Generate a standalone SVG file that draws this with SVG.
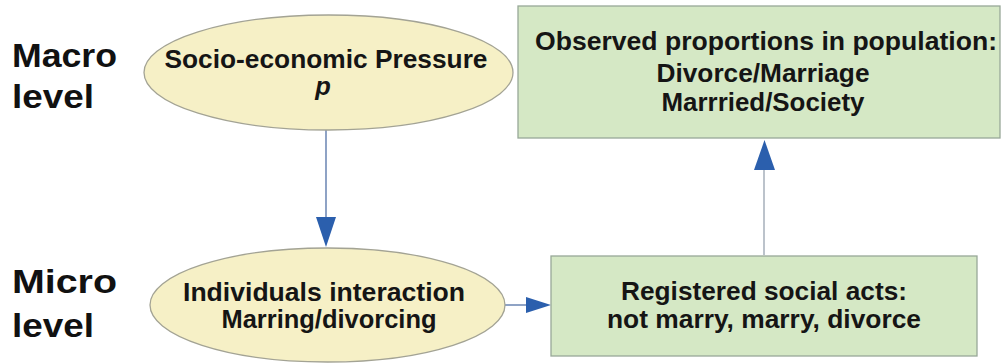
<svg xmlns="http://www.w3.org/2000/svg" width="1001" height="363" viewBox="0 0 1001 363">
<defs>
<style>
.lvl{font-family:"Liberation Sans",Arial,sans-serif;font-weight:bold;font-size:34px;fill:#111}
.t{font-family:"Liberation Sans",Arial,sans-serif;font-weight:bold;font-size:25.5px;fill:#151515;text-anchor:middle}
.ell{fill:#f6f0c6;stroke:#a3a394;stroke-width:1.3}
.box{fill:#d5e8c5;stroke:#98a898;stroke-width:1.3}
.conn{fill:none;stroke:#5271a6;stroke-width:1.3}
.conn2{fill:none;stroke:#bcc3cb;stroke-width:2}
.head{fill:#2b5fad}
</style>
</defs>
<rect width="1001" height="363" fill="#ffffff"/>
<g id="labels">
<text class="lvl" x="12" y="67" textLength="105" lengthAdjust="spacingAndGlyphs">Macro</text>
<text class="lvl" x="12" y="108" textLength="82" lengthAdjust="spacingAndGlyphs">level</text>
<text class="lvl" x="12" y="293" textLength="105" lengthAdjust="spacingAndGlyphs">Micro</text>
<text class="lvl" x="12" y="337" textLength="82" lengthAdjust="spacingAndGlyphs">level</text>
</g>
<g id="connectors">
<line class="conn" x1="326" y1="130" x2="326" y2="218"/>
<polygon class="head" points="316,217 336,217 326,247"/>
<line class="conn" x1="502" y1="305" x2="527" y2="305"/>
<polygon class="head" points="526,297 526,313 551,305"/>
<line class="conn2" x1="764" y1="255" x2="764" y2="168"/>
<polygon class="head" points="754,170 775,170 764.5,140"/>
</g>
<g id="pressure">
<ellipse class="ell" cx="328.5" cy="72.5" rx="184.5" ry="57.5"/>
<text class="t" x="326" y="68" textLength="323" lengthAdjust="spacingAndGlyphs">Socio-economic Pressure</text>
<text class="t" x="323" y="95" font-style="italic">p</text>
</g>
<g id="interaction">
<ellipse class="ell" cx="327.5" cy="305" rx="177.5" ry="57"/>
<text class="t" x="324" y="301" textLength="282" lengthAdjust="spacingAndGlyphs">Individuals interaction</text>
<text class="t" x="329" y="328" textLength="215" lengthAdjust="spacingAndGlyphs">Marring/divorcing</text>
</g>
<g id="observed">
<rect class="box" x="518" y="6" width="482" height="132"/>
<text class="t" x="766" y="50" textLength="462" lengthAdjust="spacingAndGlyphs">Observed proportions in population:</text>
<text class="t" x="763" y="82" textLength="213" lengthAdjust="spacingAndGlyphs">Divorce/Marriage</text>
<text class="t" x="763" y="111" textLength="203" lengthAdjust="spacingAndGlyphs">Marrried/Society</text>
</g>
<g id="registered">
<rect class="box" x="551" y="256" width="426" height="100"/>
<text class="t" x="764" y="300" textLength="286" lengthAdjust="spacingAndGlyphs">Registered social acts:</text>
<text class="t" x="764" y="328" textLength="314" lengthAdjust="spacingAndGlyphs">not marry, marry, divorce</text>
</g>
</svg>
